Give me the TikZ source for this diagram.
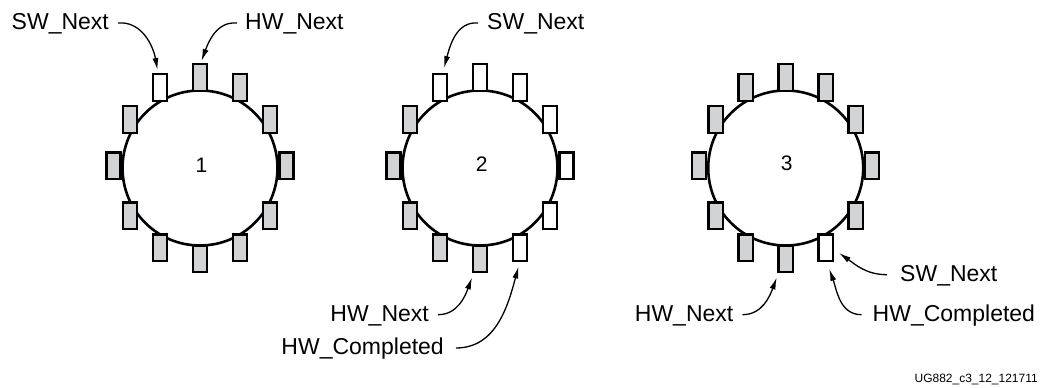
\documentclass[tikz,border=0pt]{standalone}
\usepackage{fontspec}
\setmainfont{Liberation Sans}
\usetikzlibrary{arrows.meta}
\definecolor{slotgray}{RGB}{209,211,212}
\tikzset{
  slot/.style={draw, line width=2.4pt, minimum width=14.1pt, minimum height=26.6pt, inner sep=0pt},
  busyslot/.style={slot, fill=slotgray},
  freeslot/.style={slot, fill=white},
  ring/.style={line width=2.6pt},
  ptrlabel/.style={inner sep=0pt, font=\fontsize{23}{27}\selectfont, text height=16pt, text depth=2pt},
  pointer/.style={-{Latex[length=12pt,width=6pt]}, line width=1.3pt}
}
\begin{document}
\begin{tikzpicture}[x=1pt, y=1pt]
  \useasboundingbox (0,0) rectangle (1052,388);
  \draw[ring] (200,220) circle (77.5);
  \draw[ring] (480,220) circle (77.5);
  \draw[ring] (785.7,220) circle (77.5);
  \foreach \i/\dx/\dy/\ka/\kb/\kc in {
      0/0/90.5/busyslot/freeslot/busyslot,
      1/40/80.5/busyslot/freeslot/busyslot,
      2/70/48.5/busyslot/freeslot/busyslot,
      3/86.5/2/busyslot/freeslot/busyslot,
      4/70/-48/busyslot/freeslot/busyslot,
      5/40/-80/busyslot/freeslot/freeslot,
      6/0/-91/busyslot/busyslot/busyslot,
      7/-40/-80/busyslot/busyslot/busyslot,
      8/-70/-48/busyslot/busyslot/busyslot,
      9/-86.5/2/busyslot/busyslot/busyslot,
      10/-70/48.5/busyslot/busyslot/busyslot,
      11/-40/80.5/freeslot/freeslot/busyslot}
  {
    \node[\ka] (r1s\i) at (200+\dx,220+\dy) {};
    \node[\kb] (r2s\i) at (480+\dx,220+\dy) {};
    \node[\kc] (r3s\i) at (785.7+\dx,220+\dy) {};
  }
  \node[inner sep=0pt, font=\fontsize{21}{21}\selectfont] (num1) at (201.5,223) {1};
  \node[inner sep=0pt, font=\fontsize{21}{21}\selectfont] (num2) at (481.7,224) {2};
  \node[inner sep=0pt, font=\fontsize{21}{21}\selectfont] (num3) at (786.7,225) {3};

  \node[ptrlabel, anchor=base west] (sw1) at (11.5,358) {SW\_Next};
  \node[ptrlabel, anchor=base west] (hw1) at (245,358) {HW\_Next};
  \node[ptrlabel, anchor=base west] (sw2) at (487,358) {SW\_Next};
  \node[ptrlabel, anchor=base east] (hwn2) at (429,66.3) {HW\_Next};
  \node[ptrlabel, anchor=base east] (hwc2) at (444,33) {HW\_Completed};
  \node[ptrlabel, anchor=base west] (sw3) at (900,106.3) {SW\_Next};
  \node[ptrlabel, anchor=base west] (hwc3) at (872.5,66.3) {HW\_Completed};
  \node[ptrlabel, anchor=base east] (hwn3) at (733.5,66.3) {HW\_Next};
  \node[inner sep=0pt, font=\fontsize{12}{12}\selectfont, anchor=base east] (figid) at (1038,5) {UG882\_c3\_12\_121711};

  \draw[pointer] ([xshift=9]sw1.east) to[out=5,in=100] ([shift={(-2.5,3)}]r1s11.north);
  \draw[pointer] ([xshift=-8]hw1.west) to[out=175,in=70] ([shift={(1.5,2)}]r1s0.north);
  \draw[pointer] ([xshift=-9]sw2.west) to[out=175,in=75] ([shift={(4,5)}]r2s11.north);
  \draw[pointer] ([xshift=9]hwn2.east) to[out=0,in=250] ([shift={(-8,-4)}]r2s6.south);
  \draw[pointer] ([xshift=12]hwc2.east) to[out=0,in=255] ([shift={(-1.5,-4)}]r2s5.south);
  \draw[pointer] ([xshift=-13]sw3.west) to[out=180,in=-35] ([shift={(5,-5)}]r3s5.east);
  \draw[pointer] ([xshift=-11]hwc3.west) to[out=180,in=-70] ([shift={(3.5,-6.5)}]r3s5.south);
  \draw[pointer] ([xshift=9]hwn3.east) to[out=0,in=250] ([shift={(-9,-4)}]r3s6.south);
\end{tikzpicture}
\end{document}
